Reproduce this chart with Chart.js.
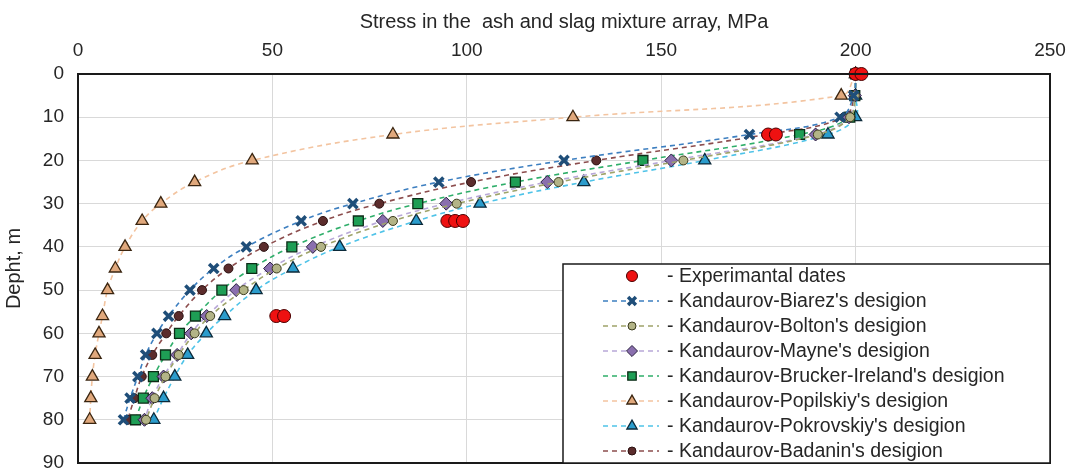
<!DOCTYPE html>
<html>
<head>
<meta charset="utf-8">
<script src="https://cdn.jsdelivr.net/npm/chart.js@4.4.1/dist/chart.umd.min.js"></script>
<style>
  html, body { margin: 0; padding: 0; background: #ffffff; }
  #wrap { width: 1071px; height: 473px; position: relative; }
</style>
</head>
<body>
<div id="wrap"><canvas id="c" width="1071" height="473"></canvas></div>
<script>
// ---- data ----
const xTitle = "Stress in the  ash and slag mixture array, MPa";
const yTitle = "Depht, m";
const depths = [0, 5, 10, 14, 20, 25, 30, 34, 40, 45, 50, 56, 60, 65, 70, 75, 80];

const expStress = [200, 201.5, 177.5, 179.5, 95, 97, 99, 51, 53];
const expDepth  = [0, 0, 14, 14, 34, 34, 34, 56, 56];

const biarez     = [200, 199.5, 196, 172.7, 125, 92.8, 70.7, 57.4, 43.3, 34.9, 28.8, 23.3, 20.3, 17.4, 15.4, 13.4, 11.7];
const bolton     = [200, 199.8, 198.6, 190.3, 155.7, 123.6, 97.4, 81.0, 62.5, 51.1, 42.6, 34.0, 30.0, 25.9, 22.5, 19.7, 17.5];
const mayne      = [200, 199.8, 198.3, 189.7, 152.6, 120.7, 94.7, 78.4, 60.4, 49.4, 40.7, 33.1, 29.1, 25.5, 22.0, 19.1, 17.1];
const brucker    = [200, 199.8, 198.5, 185.6, 145.3, 112.5, 87.4, 72.1, 55.0, 44.7, 37.0, 30.2, 26.1, 22.5, 19.4, 16.8, 14.8];
const popilskiy  = [200, 196.3, 127.3, 81.0, 44.8, 30.0, 21.3, 16.5, 12.1, 9.6, 7.6, 6.3, 5.4, 4.4, 3.7, 3.3, 3.0];
const pokrovskiy = [200, 200, 200, 192.9, 161.2, 130.1, 103.4, 87.0, 67.3, 55.3, 45.8, 37.7, 33.0, 28.2, 24.9, 22.0, 19.5];
const badanin    = [200, 199.7, 197, 177.0, 133.3, 101.1, 77.5, 63.0, 47.8, 38.7, 31.9, 25.9, 22.7, 19.1, 16.4, 14.5, 12.8];

const seriesNames = [
  "- Experimantal dates",
  "- Kandaurov-Biarez's desigion",
  "- Kandaurov-Bolton's desigion",
  "- Kandaurov-Mayne's desigion",
  "- Kandaurov-Brucker-Ireland's desigion",
  "- Kandaurov-Popilskiy's desigion",
  "- Kandaurov-Pokrovskiy's desigion",
  "- Kandaurov-Badanin's desigion"
];
const xTicks = [0, 50, 100, 150, 200, 250];
const yTicks = [0, 10, 20, 30, 40, 50, 60, 70, 80, 90];

// ---- styles ----
const FONT = "'Liberation Sans', Arial, sans-serif";
const TEXT = '#262626';
const styles = [
  { line: null,      fill: '#ee1111', edge: '#4a0000', shape: 'circle',   r: 6.5, bw: 1 },
  { line: '#3d7fc0', fill: '#1f4e79', edge: '#1f4e79', shape: 'crossRot', r: 6.5, bw: 3.5 },
  { line: '#9ea36a', fill: '#b3b487', edge: '#3a3a1c', shape: 'circle',   r: 4.5, bw: 1 },
  { line: '#b8a8d8', fill: '#8a6fae', edge: '#2a2040', shape: 'rectRot',  r: 6.5, bw: 1 },
  { line: '#2fae6a', fill: '#1e9e55', edge: '#0d2b17', shape: 'rect',     r: 7,   bw: 1.3 },
  { line: '#f3c4a0', fill: '#e0a87c', edge: '#3a2510', shape: 'triangle', r: 7,   bw: 1.3 },
  { line: '#4fc3e8', fill: '#2b9ccc', edge: '#0c2a3a', shape: 'triangle', r: 7,   bw: 1.3 },
  { line: '#8c4d4d', fill: '#5b2c2c', edge: '#2a1010', shape: 'circle',   r: 4.5, bw: 1 }
];

function pts(xs, ys) { return xs.map((v, i) => ({ x: v, y: ys[i] })); }

const seriesValues = [biarez, bolton, mayne, brucker, popilskiy, pokrovskiy, badanin];

const datasets = [];
datasets.push({
  label: seriesNames[0],
  data: pts(expStress, expDepth),
  showLine: false,
  pointStyle: styles[0].shape,
  pointRadius: styles[0].r,
  pointBackgroundColor: styles[0].fill,
  pointBorderColor: styles[0].edge,
  pointBorderWidth: styles[0].bw,
  clip: false
});
seriesValues.forEach((vals, k) => {
  const s = styles[k + 1];
  datasets.push({
    label: seriesNames[k + 1],
    data: pts(vals, depths),
    showLine: true,
    tension: 0.4,
    borderColor: s.line,
    borderWidth: 1.6,
    borderDash: [5, 4],
    pointStyle: s.shape,
    pointRadius: s.r,
    pointBackgroundColor: s.fill,
    pointBorderColor: s.edge,
    pointBorderWidth: s.bw,
    clip: false
  });
});

// plot border + legend box drawn inside the plot area
const framePlugin = {
  id: 'frame',
  afterDatasetsDraw(chart) {
    const a = chart.chartArea, ctx = chart.ctx;
    ctx.save();
    ctx.strokeStyle = '#1a1a1a';
    ctx.lineWidth = 2;
    ctx.strokeRect(a.left, a.top, a.right - a.left, a.bottom - a.top);
    ctx.restore();
  },
  afterDraw(chart) {
    const ctx = chart.ctx;
    const a = chart.chartArea;
    const bx = 563, by = 264, bw = a.right - bx, bh = a.bottom - by;
    ctx.save();
    ctx.fillStyle = '#ffffff';
    ctx.fillRect(bx, by, bw, bh);
    ctx.strokeStyle = '#1a1a1a';
    ctx.lineWidth = 1.5;
    ctx.strokeRect(bx, by, bw, bh);
    ctx.font = '19.5px ' + FONT;
    ctx.textBaseline = 'middle';
    ctx.textAlign = 'left';
    for (let i = 0; i < seriesNames.length; i++) {
      const s = styles[i];
      const y = 276 + i * 25;
      if (s.line) {
        ctx.save();
        ctx.strokeStyle = s.line;
        ctx.lineWidth = 1.6;
        ctx.setLineDash([5, 4]);
        ctx.beginPath();
        ctx.moveTo(603, y);
        ctx.lineTo(659, y);
        ctx.stroke();
        ctx.restore();
      }
      ctx.save();
      ctx.fillStyle = s.fill;
      ctx.strokeStyle = s.edge;
      ctx.lineWidth = s.bw;
      Chart.helpers.drawPoint(ctx, { pointStyle: s.shape, radius: s.shape === 'circle' && i > 0 ? 4 : s.r * 0.85, borderWidth: s.bw }, 632, y);
      ctx.restore();
      ctx.fillStyle = TEXT;
      ctx.fillText(seriesNames[i], 667, y + 1);
    }
    ctx.restore();
  }
};

new Chart(document.getElementById('c'), {
  type: 'scatter',
  data: { datasets },
  options: {
    responsive: false,
    animation: false,
    devicePixelRatio: 1,
    layout: { padding: { left: 0, right: 21, top: 0, bottom: 9 } },
    plugins: { legend: { display: false }, tooltip: { enabled: false } },
    scales: {
      x: {
        type: 'linear',
        position: 'top',
        min: 0, max: 250,
        afterBuildTicks(scale) { scale.ticks = xTicks.map(v => ({ value: v })); },
        afterFit(scale) { scale.height = 74; scale.paddingLeft = 0; scale.paddingRight = 0; },
        ticks: { color: TEXT, font: { family: FONT, size: 19 }, padding: 12, maxRotation: 0 },
        grid: { color: '#d9d9d9', lineWidth: 1, drawTicks: false },
        border: { display: false },
        title: { display: true, text: xTitle, color: TEXT, font: { family: FONT, size: 20 }, padding: { top: 10, bottom: 0 } }
      },
      y: {
        type: 'linear',
        reverse: true,
        min: 0, max: 90,
        afterBuildTicks(scale) { scale.ticks = yTicks.map(v => ({ value: v })); },
        afterFit(scale) { scale.width = 78; scale.paddingTop = 0; scale.paddingBottom = 0; },
        ticks: { color: TEXT, font: { family: FONT, size: 19 }, padding: 14 },
        grid: { color: '#d9d9d9', lineWidth: 1, drawTicks: false },
        border: { display: false },
        title: { display: true, text: yTitle, color: TEXT, font: { family: FONT, size: 20 }, padding: { top: 2, bottom: 0 } }
      }
    }
  },
  plugins: [framePlugin]
});
</script>
</body>
</html>
